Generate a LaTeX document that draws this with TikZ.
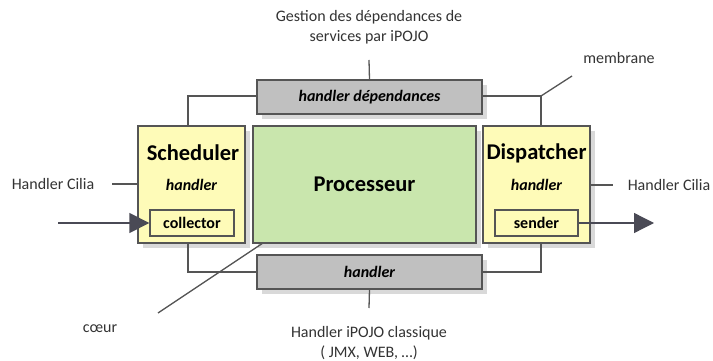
\documentclass[tikz,border=0pt]{standalone}
\usepackage{fontspec}
\setmainfont{Carlito}
\usetikzlibrary{arrows.meta}
\definecolor{edge}{HTML}{555555}
\definecolor{yel}{HTML}{FEFBB8}
\definecolor{grn}{HTML}{C9E6AD}
\definecolor{gry}{HTML}{C0C0C0}
\definecolor{arr}{HTML}{4A4A55}
\definecolor{txt}{HTML}{333333}
\tikzset{
  x=1pt,y=-1pt,
  box/.style={draw=edge,line width=1.3pt,inner sep=0pt},
  shad/.style={fill=black,opacity=0.15},
  wire/.style={draw=edge,line width=1.3pt},
  lbl/.style={text=txt,font=\fontsize{16}{20}\selectfont,align=center},
  bi/.style={font=\fontsize{16}{20}\selectfont\bfseries\itshape},
  bt/.style={font=\fontsize{16}{20}\selectfont\bfseries},
  big/.style={font=\fontsize{22.5}{26}\selectfont\bfseries},
  bigarrow/.style={draw=arr,line width=1.3pt,-{Triangle[length=20pt,width=20pt]}}
}
\begin{document}
\begin{tikzpicture}
\useasboundingbox (0,0) rectangle (713,361);
% shadows
\foreach \a/\b/\c/\d in {257/80/482/114, 138/126/245/243, 253/126/476/243, 483/126/590/243, 257/255/482/289, 150/210/234/236, 495/210/578/236}
  \fill[shad] (\a+5,\b+5) rectangle (\c+5,\d+5);
% membrane
\draw[wire] (188,126) -- (188,96) -- (257,96);
\draw[wire] (482,96) -- (541,96) -- (541,126);
\draw[wire] (188,243) -- (188,272) -- (257,272);
\draw[wire] (482,272) -- (541,272) -- (541,243);
% boxes
\node[box,fill=gry,minimum width=225pt,minimum height=34pt,bi] (hd) at (369.5,97) {handler dépendances};
\node[box,fill=gry,minimum width=225pt,minimum height=34pt,bi] (hb) at (369.5,272) {handler};
\node[box,fill=yel,minimum width=107pt,minimum height=117pt] (sch) at (191.5,184.5) {};
\node[box,fill=grn,minimum width=223pt,minimum height=117pt,big] (proc) at (364.5,184.5) {Processeur};
\node[box,fill=yel,minimum width=107pt,minimum height=117pt] (dis) at (536.5,184.5) {};
\node[big] (schT) at (193,153) {Scheduler};
\node[bi] (schH) at (191.5,185) {handler};
\node[big] (disT) at (536.5,153) {Dispatcher};
\node[bi] (disH) at (536.5,185) {handler};
\node[box,fill=yel,minimum width=84pt,minimum height=26pt,bt] (col) at (192,223) {collector};
\node[box,fill=yel,minimum width=83pt,minimum height=26pt,bt] (snd) at (536.5,223) {sender};
% labels
\node[lbl] (gest) at (369,27) {Gestion des dépendances de\\services par iPOJO};
\node[lbl] (hip) at (369,343) {Handler iPOJO classique\\( JMX, WEB, \dots)};
\node[lbl] (memb) at (619,58) {membrane};
\node[lbl] (coeur) at (100,329) {cœur};
\node[lbl] (hcl) at (53,184) {Handler Cilia};
\node[lbl] (hcr) at (669,185) {Handler Cilia};
% connectors
\coordinate (g1) at (369,60);
\draw[wire] (g1) -- (hd.north);
\coordinate (h1) at (369,308);
\draw[wire] (hb.south) -- (h1);
\coordinate (m0) at (541,96);
\coordinate (m1) at (572,76);
\draw[wire] (m0) -- (m1);
\coordinate (c0) at (158,313);
\coordinate (c1) at (263,243);
\draw[wire] (c0) -- (c1);
\coordinate (l0) at (112,184);
\draw[wire] (l0) -- (sch.west |- l0);
\coordinate (r0) at (613,185);
\draw[wire] (dis.east |- r0) -- (r0);
\coordinate (in0) at (58,223);
\draw[bigarrow] (in0) -- (col.west);
\coordinate (out0) at (654,223);
\draw[bigarrow] (snd.east) -- (out0);
\end{tikzpicture}
\end{document}
